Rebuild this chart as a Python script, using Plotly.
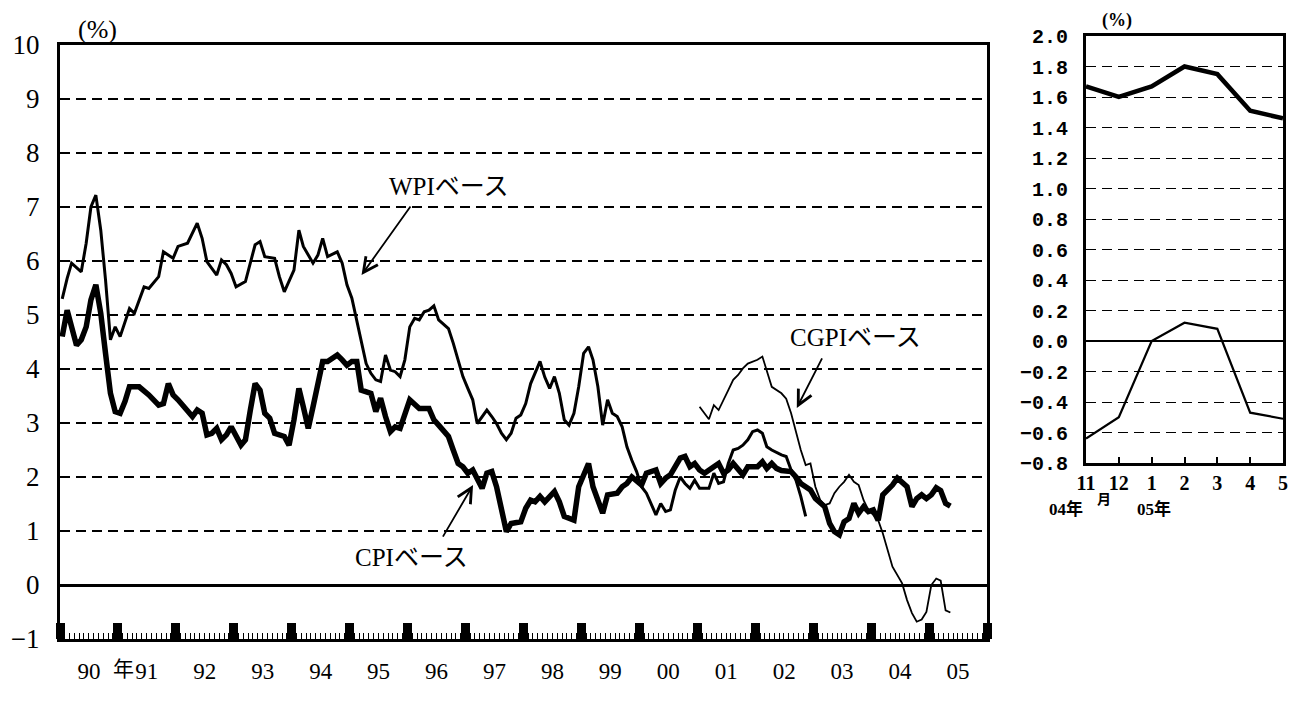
import plotly.graph_objects as go

# ---------------- data ----------------
wpi_months = """1990-01 1990-02 1990-03 1990-05 1990-06 1990-07 1990-08 1990-09 1990-10 1990-11 1990-12
1991-01 1991-03 1991-04 1991-06 1991-07 1991-09 1991-10 1991-12
1992-01 1992-03 1992-05 1992-06 1992-07 1992-09 1992-10 1992-11 1992-12
1993-01 1993-03 1993-05 1993-06 1993-07 1993-09 1993-10 1993-11
1994-01 1994-02 1994-03 1994-05 1994-06 1994-07 1994-08 1994-10 1994-11 1994-12
1995-01 1995-02 1995-03 1995-04 1995-05 1995-06 1995-07 1995-08 1995-09 1995-10 1995-11 1995-12
1996-01 1996-02 1996-03 1996-04 1996-05 1996-06 1996-07 1996-09 1996-10 1996-11 1996-12
1997-01 1997-02 1997-03 1997-05 1997-06 1997-07 1997-08 1997-09 1997-10 1997-11 1997-12
1998-01 1998-02 1998-04 1998-05 1998-06 1998-07 1998-08 1998-09 1998-10 1998-11 1998-12
1999-01 1999-02 1999-03 1999-04 1999-05 1999-06 1999-07 1999-08 1999-09 1999-10 1999-11 1999-12
2000-01 2000-02 2000-04 2000-05 2000-06 2000-07 2000-08 2000-09 2000-10 2000-11 2000-12
2001-01 2001-03 2001-04 2001-05 2001-06 2001-07 2001-08 2001-09 2001-10 2001-11 2001-12
2002-01 2002-02 2002-03 2002-04 2002-06 2002-07 2002-08 2002-09 2002-10 2002-11""".split()
wpi_values = [5.30, 5.68, 5.96, 5.80, 6.33, 7.00, 7.22, 6.57, 5.65, 4.54, 4.78,
              4.60, 5.12, 5.03, 5.52, 5.49, 5.71, 6.17, 6.05,
              6.27, 6.33, 6.70, 6.42, 5.99, 5.74, 6.02, 5.93, 5.77,
              5.52, 5.62, 6.30, 6.36, 6.08, 6.05, 5.71, 5.43,
              5.83, 6.57, 6.27, 5.96, 6.11, 6.42, 6.08, 6.17, 5.96, 5.56,
              5.31, 4.91, 4.54, 4.10, 3.92, 3.80, 3.77, 4.26, 3.98, 3.95, 3.86, 4.17,
              4.78, 4.94, 4.91, 5.06, 5.09, 5.17, 4.91, 4.75, 4.48, 4.14, 3.86,
              3.64, 3.43, 2.99, 3.24, 3.12, 2.99, 2.81, 2.69, 2.81, 3.09, 3.15,
              3.36, 3.73, 4.14, 3.85, 3.64, 3.86, 3.55, 3.06, 2.96, 3.18, 3.67,
              4.29, 4.41, 4.17, 3.67, 2.96, 3.43, 3.18, 3.12, 2.93, 2.56, 2.31, 2.10,
              1.82, 1.70, 1.30, 1.51, 1.36, 1.39, 1.76, 2.00, 1.88, 1.79, 1.94,
              1.79, 1.79, 2.07, 1.88, 1.91, 2.25, 2.50, 2.53, 2.59, 2.69, 2.84,
              2.87, 2.81, 2.56, 2.50, 2.41, 2.38, 2.13, 1.94, 1.64, 1.27]

cpi_months_hist = """1990-01 1990-02 1990-04 1990-05 1990-06 1990-07 1990-08 1990-09 1990-10 1990-11 1990-12
1991-01 1991-02 1991-03 1991-05 1991-07 1991-09 1991-10 1991-11 1991-12
1992-01 1992-02 1992-04 1992-05 1992-06 1992-07 1992-08 1992-09 1992-10 1992-11 1992-12
1993-02 1993-03 1993-04 1993-05 1993-06 1993-07 1993-08 1993-09 1993-11 1993-12
1994-01 1994-02 1994-03 1994-04 1994-05 1994-06 1994-07 1994-08 1994-10 1994-11 1994-12
1995-01 1995-02 1995-03 1995-05 1995-06 1995-07 1995-08 1995-09 1995-10 1995-11
1996-01 1996-02 1996-03 1996-05 1996-06 1996-07 1996-09 1996-10 1996-11 1996-12
1997-01 1997-02 1997-03 1997-04 1997-05 1997-06 1997-07 1997-08 1997-09 1997-10 1997-12
1998-01 1998-02 1998-03 1998-04 1998-05 1998-07 1998-08 1998-09 1998-11 1998-12
1999-02 1999-03 1999-05 1999-06 1999-08 1999-09 1999-10 1999-11
2000-01 2000-02 2000-04 2000-05 2000-06 2000-07 2000-09 2000-10 2000-11 2000-12
2001-01 2001-02 2001-04 2001-05 2001-06 2001-07 2001-08 2001-10 2001-11
2002-01 2002-02 2002-03 2002-04 2002-05 2002-06 2002-08 2002-09 2002-10 2002-12
2003-01 2003-03 2003-04 2003-05 2003-06 2003-07 2003-08 2003-09 2003-10 2003-11 2003-12
2004-01 2004-02 2004-03 2004-05 2004-06 2004-08 2004-09 2004-10""".split()
cpi_values_hist = [4.60, 5.09, 4.44, 4.54, 4.78, 5.28, 5.56, 5.03, 4.29, 3.55, 3.21,
                   3.18, 3.40, 3.67, 3.67, 3.52, 3.33, 3.36, 3.73, 3.52,
                   3.43, 3.33, 3.12, 3.24, 3.18, 2.78, 2.81, 2.90, 2.69, 2.78, 2.93,
                   2.59, 2.69, 3.24, 3.73, 3.61, 3.18, 3.09, 2.81, 2.75, 2.59,
                   3.06, 3.64, 3.30, 2.90, 3.30, 3.73, 4.14, 4.14, 4.26, 4.17, 4.07,
                   4.14, 4.14, 3.61, 3.55, 3.21, 3.46, 3.12, 2.84, 2.93, 2.90,
                   3.43, 3.33, 3.27, 3.27, 3.06, 2.96, 2.75, 2.50, 2.25, 2.19,
                   2.07, 2.13, 1.94, 1.79, 2.07, 2.10, 1.82, 1.39, 0.99, 1.14, 1.17,
                   1.42, 1.57, 1.54, 1.64, 1.54, 1.73, 1.54, 1.27, 1.20, 1.82,
                   2.25, 1.82, 1.33, 1.67, 1.70, 1.82, 1.88, 2.00,
                   1.85, 2.07, 2.13, 1.88, 1.98, 2.04, 2.35, 2.38, 2.19, 2.25,
                   2.13, 2.07, 2.19, 2.25, 2.07, 2.13, 2.25, 2.04, 2.19,
                   2.19, 2.28, 2.16, 2.25, 2.16, 2.12, 2.10, 2.00, 1.88, 1.76,
                   1.60, 1.45, 1.14, 0.99, 0.93, 1.17, 1.23, 1.51, 1.33, 1.45, 1.36,
                   1.39, 1.20, 1.67, 1.85, 1.98, 1.82, 1.45, 1.60]

cgpi_months_hist = """2001-01 2001-03 2001-04 2001-05 2001-07 2001-08 2001-09 2001-10 2001-11
2002-01 2002-02 2002-03 2002-04 2002-06 2002-07 2002-08 2002-09 2002-10 2002-11 2002-12
2003-01 2003-02 2003-03 2003-04 2003-05 2003-06 2003-07 2003-08 2003-09 2003-10 2003-11 2003-12
2004-01 2004-02 2004-03 2004-04 2004-05 2004-07 2004-08 2004-09 2004-10""".split()
cgpi_values_hist = [3.30, 3.07, 3.33, 3.24, 3.61, 3.80, 3.89, 4.01, 4.10,
                    4.17, 4.23, 3.95, 3.67, 3.55, 3.45, 3.18, 2.81, 2.50, 2.22, 2.25,
                    1.82, 1.57, 1.48, 1.51, 1.70, 1.82, 1.91, 2.04, 1.91, 1.85, 1.57, 1.39,
                    1.30, 1.20, 0.96, 0.65, 0.34, 0.03, -0.28, -0.52, -0.68]

# recent months (right panel): Nov 2004 - May 2005
recent_months = ["2004-11", "2004-12", "2005-01", "2005-02", "2005-03", "2005-04", "2005-05"]
recent_labels = ["11", "12", "1", "2", "3", "4", "5"]
cpi_recent = [1.67, 1.60, 1.67, 1.80, 1.75, 1.51, 1.46]
cgpi_recent = [-0.64, -0.50, 0.00, 0.12, 0.08, -0.47, -0.51]

left_yticks = list(range(-1, 11))
right_yticks = [round(-0.8 + 0.2 * i, 1) for i in range(15)]

# ---------------- helpers ----------------
def mid_month(ym_list):
    return [ym + "-15" for ym in ym_list]

W, H = 1290, 706
def px(x):
    return x / W
def py(y):
    return 1 - y / H

SERIF = "Liberation Serif, Noto Sans CJK JP"
JP = "Liberation Serif, Noto Sans CJK JP"

fig = go.Figure()

# left panel lines
fig.add_trace(go.Scatter(x=mid_month(wpi_months), y=wpi_values, mode="lines",
                         line=dict(color="black", width=3), xaxis="x", yaxis="y",
                         showlegend=False, hoverinfo="skip"))
fig.add_trace(go.Scatter(x=mid_month(cgpi_months_hist + recent_months),
                         y=cgpi_values_hist + cgpi_recent, mode="lines",
                         line=dict(color="black", width=1.8), xaxis="x", yaxis="y",
                         showlegend=False, hoverinfo="skip"))
fig.add_trace(go.Scatter(x=mid_month(cpi_months_hist + recent_months),
                         y=cpi_values_hist + cpi_recent, mode="lines",
                         line=dict(color="black", width=5.5), xaxis="x", yaxis="y",
                         showlegend=False, hoverinfo="skip"))

# right panel lines
xr = list(range(len(recent_labels)))
fig.add_trace(go.Scatter(x=xr, y=cpi_recent, mode="lines",
                         line=dict(color="black", width=4.5), xaxis="x2", yaxis="y2",
                         showlegend=False, hoverinfo="skip"))
fig.add_trace(go.Scatter(x=xr, y=cgpi_recent, mode="lines",
                         line=dict(color="black", width=2.2), xaxis="x2", yaxis="y2",
                         showlegend=False, hoverinfo="skip"))

def fmt_left(v):
    return ("\u2212" + str(-v)) if v < 0 else str(v)

def fmt_right(v):
    s = f"{abs(v):.1f}"
    return ("\u2212" + s) if v < 0 else s

fig.update_layout(
    width=W, height=H,
    margin=dict(l=0, r=0, t=0, b=0, autoexpand=False),
    paper_bgcolor="white", plot_bgcolor="white",
    xaxis=dict(
        type="date", domain=[px(60), px(987)], anchor="y",
        range=["1990-01-01", "2006-01-01"],
        tick0="1990-01-01", dtick="M12", tickformat="%y", ticklabelmode="period",
        ticks="inside", ticklen=16, tickwidth=9, tickcolor="black",
        minor=dict(dtick="M1", tick0="1990-01-01", ticks="inside", ticklen=6,
                   tickwidth=1.2, tickcolor="black", showgrid=False),
        showgrid=False, zeroline=False,
        showline=True, linewidth=3, linecolor="black", mirror=True,
        tickfont=dict(family=SERIF, size=23, color="black"),
        ticklabelstandoff=9,
    ),
    yaxis=dict(
        domain=[py(639), py(45)], anchor="x",
        range=[-1, 10], tickvals=left_yticks, ticktext=[fmt_left(v) for v in left_yticks],
        ticks="", ticklabelstandoff=12,
        showgrid=True, gridcolor="black", gridwidth=1.5, griddash="10px,6px",
        zeroline=True, zerolinecolor="black", zerolinewidth=2.5,
        showline=True, linewidth=3, linecolor="black", mirror=True,
        tickfont=dict(family=SERIF, size=27, color="black"),
    ),
    xaxis2=dict(
        domain=[px(1086), px(1283)], anchor="y2",
        range=[0, len(recent_labels) - 1], tickvals=xr, ticktext=recent_labels,
        ticks="inside", ticklen=6, tickwidth=1.5, tickcolor="black",
        showgrid=False, zeroline=False,
        showline=True, linewidth=3, linecolor="black", mirror=True,
        tickfont=dict(family=SERIF, size=20, color="black", weight="bold"),
        ticklabelstandoff=0,
    ),
    yaxis2=dict(
        domain=[py(463), py(36)], anchor="x2",
        range=[-0.8, 2.0], tickvals=right_yticks, ticktext=[fmt_right(v) for v in right_yticks],
        ticks="", ticklabelstandoff=11,
        showgrid=True, gridcolor="black", gridwidth=1.3, griddash="10px,6px",
        zeroline=True, zerolinecolor="black", zerolinewidth=2,
        showline=True, linewidth=3, linecolor="black", mirror=True,
        tickfont=dict(family="Liberation Mono", size=20, color="black", weight="bold"),
    ),
)

annos = []
# text labels
def text(x, y, s, size, weight="normal", family=JP):
    annos.append(dict(xref="paper", yref="paper", x=px(x), y=py(y), text=s,
                      showarrow=False, xanchor="center", yanchor="middle",
                      font=dict(family=family, size=size, color="black", weight=weight)))

text(97, 29, "(%)", 26)
text(1117, 20, "(%)", 18, weight="bold")
text(449, 186, "WPIベース", 25)
text(411, 557, "CPIベース", 25)
text(855, 337, "CGPIベース", 25)
text(123, 669, "年", 21)
text(1066, 509, "04年", 17, weight="bold")
text(1104, 499, "月", 14, weight="bold")
text(1154, 509, "05年", 17, weight="bold")

# arrows (head at data coordinates, tail offset in px)
def arrow(x, y, ax, ay):
    annos.append(dict(xref="x", yref="y", x=x, y=y, ax=ax, ay=ay, text="",
                      showarrow=True, arrowhead=5, arrowsize=1.6, arrowwidth=1.8,
                      arrowcolor="black"))

arrow("1995-03-17", 5.74, 50, -70)
arrow("1997-02-17", 1.85, -31, 53)
arrow("2002-09-20", 3.28, 26, -51)

fig.update_layout(annotations=annos)

fig.write_html("out.html", config={"displayModeBar": False},
               post_script="document.body.style.margin='0';")
